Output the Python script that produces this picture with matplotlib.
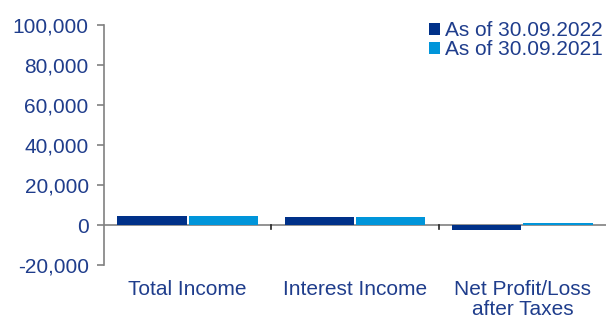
import matplotlib.pyplot as plt
import numpy as np
from matplotlib.ticker import FuncFormatter

categories = ["Total Income", "Interest Income", "Net Profit/Loss\nafter Taxes"]
series_labels = ["As of 30.09.2022", "As of 30.09.2021"]
values_2022 = [4300, 4200, -2500]
values_2021 = [4300, 3800, 1000]
y_ticks = [-20000, 0, 20000, 40000, 60000, 80000, 100000]

DARK = "#003189"
LIGHT = "#0095da"
TEXT = "#1f3d8c"
AXIS = "#808080"

plt.rcParams["font.family"] = ["Liberation Sans", "DejaVu Sans"]

fig = plt.figure(figsize=(6.06, 3.22), dpi=100)
ax = fig.add_axes([104 / 606, 1 - 265 / 322, (606 - 104) / 606, 240 / 322])

x = np.arange(len(categories))
w = 0.415
ax.bar(x - w / 2 - 0.005, values_2022, w, color=DARK, label=series_labels[0], zorder=2)
ax.bar(x + w / 2 + 0.005, values_2021, w, color=LIGHT, label=series_labels[1], zorder=2)

ax.set_xlim(-0.5, len(categories) - 0.5)
ax.set_ylim(-20000, 100000)
ax.set_yticks(y_ticks)
ax.yaxis.set_major_formatter(FuncFormatter(lambda v, p: f"{int(v):,}"))
ax.tick_params(axis="y", colors=AXIS, labelcolor=TEXT, labelsize=15, length=5, width=1.2, pad=6)

for s in ["top", "right", "bottom"]:
    ax.spines[s].set_visible(False)
ax.spines["left"].set_color(AXIS)
ax.spines["left"].set_linewidth(1.2)

# zero line with category boundary ticks
ax.axhline(0, color=AXIS, lw=1.2, zorder=1)
ax.set_xticks([])
for b in [0.5, 1.5]:
    ax.plot([b, b], [0, -2000], color="#222222", lw=1.2, clip_on=False)

for i, c in enumerate(categories):
    ax.text(i, -27500, c, ha="center", va="top", fontsize=15, color=TEXT,
            linespacing=1.05)

leg = ax.legend(loc="upper right", bbox_to_anchor=(1.01, 1.05), frameon=False,
                fontsize=15, handlelength=0.5, handleheight=0.5,
                handletextpad=0.25, labelspacing=0.0, borderaxespad=0)
for t in leg.get_texts():
    t.set_color(TEXT)

fig.savefig("out.png", dpi=100)
